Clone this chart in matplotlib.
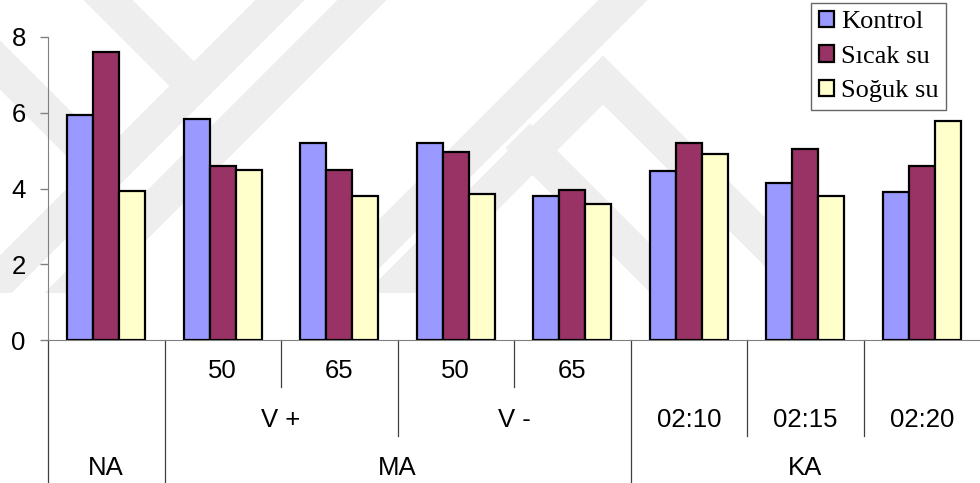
import matplotlib
matplotlib.use("Agg")
import matplotlib.pyplot as plt
import matplotlib.transforms as mtransforms
from matplotlib.lines import Line2D
from matplotlib.patches import Patch
import numpy as np

# values per group (NA | MA: V+ 50, V+ 65, V- 50, V- 65 | KA: 02:10, 02:15, 02:20)
series_names = ["Kontrol", "Sıcak su", "Soğuk su"]
kontrol = [5.95, 5.83, 5.19, 5.19, 3.81, 4.45, 4.14, 3.90]
sicak_su = [7.60, 4.60, 4.50, 4.97, 3.97, 5.19, 5.05, 4.60]
soguk_su = [3.94, 4.50, 3.80, 3.86, 3.60, 4.90, 3.81, 5.79]
colors = ["#9999FF", "#993366", "#FFFFCC"]

# three-level category axis
level1 = [("50", 1.5), ("65", 2.5), ("50", 3.5), ("65", 4.5)]
level2 = [("V +", 2.0), ("V -", 4.0), ("02:10", 5.5), ("02:15", 6.5), ("02:20", 7.5)]
level3 = [("NA", 0.5), ("MA", 3.0), ("KA", 6.5)]
yticks = [0, 2, 4, 6, 8]

W, H = 980, 483
fig = plt.figure(figsize=(W / 100, H / 100), dpi=100)
fig.patch.set_facecolor("white")

# pixel helpers (origin top-left)
def fx(px):
    return px / W

def fy(py):
    return 1 - py / H

pix = mtransforms.Affine2D().scale(1 / W, -1 / H).translate(0, 1) + fig.transFigure

# faint background logo bands
bands = [
    [(0, 280), (280, 0)],
    [(108, 0), (193, 85)],
    [(0, 65), (106, 171)],
    [(62, 300), (362, 0)],
    [(330, 293), (623, 0)],
    [(390, 293), (603, 80), (816, 293)],
    [(530, 148), (675, 293)],
]
clip = mtransforms.Bbox([[0, H - 293], [W, H]])
for b in bands:
    xs, ys = zip(*b)
    ln = Line2D(xs, ys, transform=pix, color="#eeeeee", lw=25,
                solid_capstyle="projecting", solid_joinstyle="miter", zorder=-5)
    ln.set_clip_box(clip)
    fig.add_artist(ln)

ax = fig.add_axes([fx(48), fy(340), fx(980) - fx(48), fy(37) - fy(340)])
ax.patch.set_alpha(0)

x = np.arange(len(kontrol)) + 0.5
bw = 0.222
for i, (vals, name, c) in enumerate(zip([kontrol, sicak_su, soguk_su], series_names, colors)):
    ax.bar(x + (i - 1) * bw, vals, width=bw, color=c, edgecolor="black",
           linewidth=1.6, label=name, zorder=3)

ax.set_xlim(0, 8)
ax.set_ylim(0, 8)
ax.set_yticks(yticks)
ax.set_xticks([])
for s in ["top", "right"]:
    ax.spines[s].set_visible(False)
ax.spines["left"].set_color("#808080")
ax.spines["bottom"].set_color("#808080")
ax.tick_params(axis="y", direction="out", length=6, width=1, color="#808080",
               pad=10, labelsize=18.5)
for t in ax.get_yticklabels():
    t.set_fontfamily("Liberation Sans")

# category separators below the axis
tr = mtransforms.blended_transform_factory(ax.transData, fig.transFigure)
seps = [(0, 483), (1, 483), (2, 387), (3, 436), (4, 387), (5, 483), (6, 436), (7, 436)]
for sx, bottom in seps:
    ax.add_line(Line2D([sx, sx], [fy(340), fy(bottom)], transform=tr, color="#404040",
                       lw=0.9, clip_on=False))

for labels, ypx in [(level1, 371), (level2, 420), (level3, 468)]:
    for lab, cx in labels:
        ax.text(cx, fy(ypx), lab, transform=tr, ha="center", va="center",
                fontsize=18.5, fontfamily="Liberation Sans")

handles = [Patch(facecolor=c, edgecolor="black", linewidth=1.6) for c in colors]
leg = fig.legend(handles, series_names, loc="upper left",
                 bbox_to_anchor=(fx(811), fy(3)), frameon=True, fancybox=False,
                 borderaxespad=0, borderpad=0.3, handlelength=0.58, handleheight=0.58,
                 handletextpad=0.25, labelspacing=0.45,
                 prop={"family": "Liberation Serif", "size": 19})
leg.get_frame().set_edgecolor("#404040")
leg.get_frame().set_linewidth(1)

fig.savefig("out.png", dpi=100)
